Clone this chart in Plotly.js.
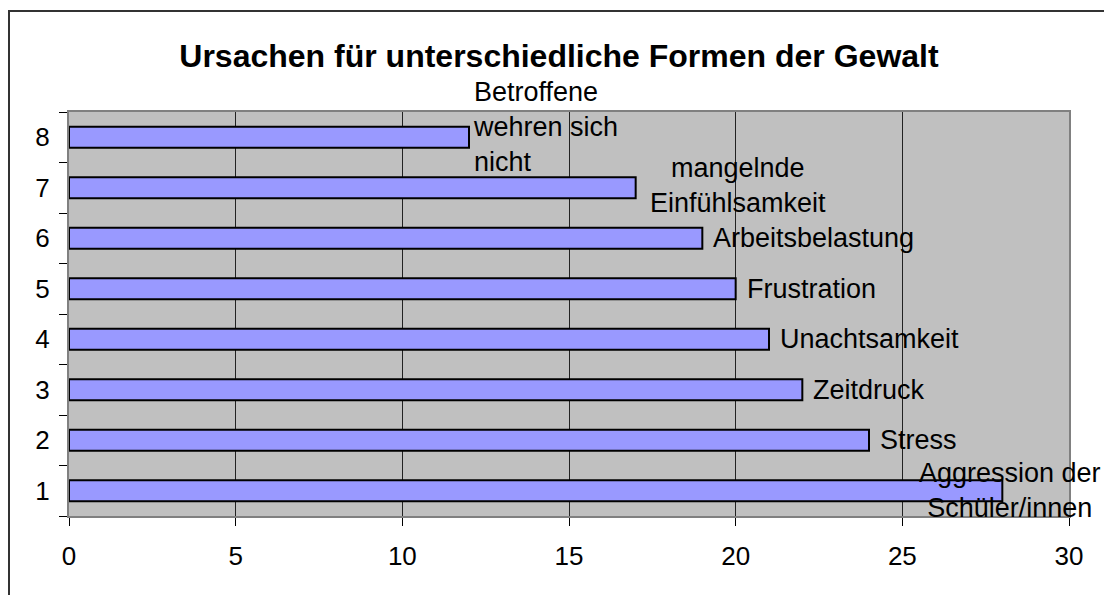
<!DOCTYPE html>
<html>
<head>
<meta charset="utf-8">
<script src="https://cdn.plot.ly/plotly-3.0.1.min.js"></script>
<style>
  html, body { margin: 0; padding: 0; background: #fff; overflow: hidden; }
  #chart { position: absolute; left: 0; top: 0; width: 1104px; height: 595px; }
  #frame { position: absolute; left: 8px; top: 10px; width: 1200px; height: 700px;
           border-left: 2px solid #333; border-top: 2px solid #333; pointer-events: none; }
</style>
</head>
<body>
<div id="chart"></div>
<div id="frame"></div>
<script>
const categories = ['1', '2', '3', '4', '5', '6', '7', '8'];
const values = [28, 24, 22, 21, 20, 19, 17, 12];
const barLabels = [
  'Aggression der<br>Schüler/innen',
  'Stress',
  'Zeitdruck',
  'Unachtsamkeit',
  'Frustration',
  'Arbeitsbelastung',
  'mangelnde<br>Einfühlsamkeit',
  'Betroffene<br>wehren sich<br>nicht'
];
const xTicks = [0, 5, 10, 15, 20, 25, 30];
const titleText = 'Ursachen für unterschiedliche Formen der Gewalt';

const FONT = '"Liberation Sans", Arial, sans-serif';

// category axis: annotation y given as the category's index position
const annotations = categories.map((c, i) => {
  const a = {
    x: values[i], y: categories.indexOf(c), xref: 'x', yref: 'y',
    text: barLabels[i], showarrow: false,
    xanchor: 'left', yanchor: 'middle', align: 'center',
    xshift: 9, yshift: 0,
    font: { family: FONT, size: 27, color: '#000' }
  };
  if (i === 0) { a.xanchor = 'center'; a.xshift = 8; }
  if (i === 7) { a.align = 'left'; a.xshift = 2; a.yshift = 10; }
  if (i === 6) { a.xshift = 12; a.yshift = 2; }
  return a;
});

const trace = {
  type: 'bar', orientation: 'h',
  x: values, y: categories,
  marker: { color: '#9999ff', line: { color: '#000', width: 2 } },
  hoverinfo: 'none'
};

const layout = {
  width: 1104, height: 595,
  margin: { l: 69, r: 35, t: 112, b: 79 },
  paper_bgcolor: 'rgba(0,0,0,0)',
  plot_bgcolor: '#c0c0c0',
  font: { family: FONT, size: 26, color: '#000' },
  showlegend: false,
  bargap: 0.58,
  title: {
    text: '<b>' + titleText + '</b>',
    font: { family: FONT, size: 32, color: '#000' },
    x: 0.5063, xanchor: 'center', y: 0.907, yanchor: 'middle', xref: 'container', yref: 'container'
  },
  xaxis: {
    range: [0, 30], tickvals: xTicks, ticktext: xTicks.map(String),
    ticks: 'outside', ticklen: 8, tickwidth: 1, tickcolor: '#000',
    showgrid: true, gridcolor: '#222', gridwidth: 1,
    showline: true, linecolor: '#808080', linewidth: 2, mirror: true,
    zeroline: false, ticklabelstandoff: 8,
    tickfont: { family: FONT, size: 26, color: '#000' }
  },
  yaxis: {
    type: 'category', categoryorder: 'array', categoryarray: categories,
    range: [-0.5, 7.5], autorange: false,
    ticks: 'outside', tickson: 'boundaries', ticklen: 8, tickwidth: 1, tickcolor: '#000',
    showgrid: false,
    showline: true, linecolor: '#808080', linewidth: 2, mirror: true,
    zeroline: false, ticklabelstandoff: 12,
    tickfont: { family: FONT, size: 26, color: '#000' }
  },
  annotations: annotations
};

Plotly.newPlot('chart', [trace], layout, { displayModeBar: false, staticPlot: true });
</script>
</body>
</html>
